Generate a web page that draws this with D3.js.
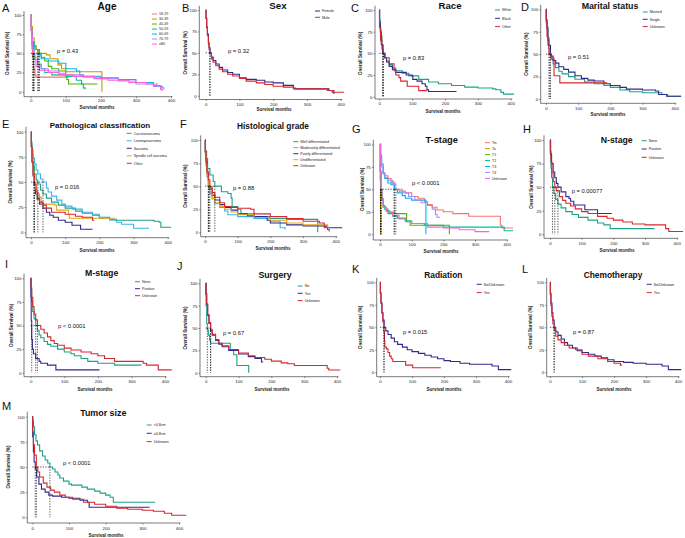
<!DOCTYPE html>
<html><head><meta charset="utf-8">
<script src="https://cdn.jsdelivr.net/npm/d3@7"></script>
<style>html,body{margin:0;padding:0;background:#fff}svg{display:block;font-family:"Liberation Sans",Arial,sans-serif}</style>
</head><body><svg id="c" width="685" height="538"></svg>
<script>
// ---------------- DATA ----------------
const xTicks = [0, 100, 200, 300, 400];
const yTicks = [0, 25, 50, 75, 100];

const panelKeys = ["A","B","C","D","E","F","G","H","I","J","K","L","M"];
const panelTitles = ["Age","Sex","Race","Marital status","Pathological classification","Histological grade","T-stage","N-stage","M-stage","Surgery","Radiation","Chemotherapy","Tumor size"];
const pLabels = ["p = 0.43","p = 0.32","p = 0.83","p = 0.51","p = 0.016","p = 0.88","p < 0.0001","p = 0.00077","p < 0.0001","p = 0.67","p = 0.015","p = 0.87","p < 0.0001"];

const ageGroups = ["18-29","30-39","40-49","50-59","60-69","70-79","\u226580"];
const ageCurves = [
 [[0,100],[1,85],[3,60],[5,45],[8,30],[12,22],[15,19],[108,19]],
 [[0,100],[2,85],[5,70],[10,60],[15,55],[22,50],[45,48],[55,43],[70,43],[78,35],[88,30],[100,26],[203,26],[203,0]],
 [[0,100],[2,80],[5,65],[8,60],[15,55],[25,50],[30,45],[40,40],[50,33],[60,30],[80,27],[100,20],[103,16],[108,10],[190,10]],
 [[0,100],[2,80],[5,60],[8,50],[12,42],[20,35],[30,30],[40,25],[60,22],[100,20],[130,15],[145,10],[150,5],[155,3]],
 [[0,100],[2,80],[5,65],[10,55],[20,48],[30,43],[50,40],[80,37],[100,30],[130,27],[140,22],[150,20],[200,18],[250,16],[300,12],[350,8],[370,7],[375,5]],
 [[0,100],[2,75],[5,55],[10,45],[20,36],[30,30],[50,27],[80,24],[100,22],[150,19],[200,17],[250,14],[300,10],[350,7],[370,5],[380,3]],
 [[0,100],[1,80],[4,55],[8,42],[15,33],[25,28],[50,25],[80,22],[120,20],[180,17],[220,15],[280,12],[330,10],[360,8],[370,3],[375,1]]
];

const sexGroups = ["Female","Male"];
const sexCurves = [
 [[0,100],[1,90],[3,80],[5,72],[8,62],[10,56],[13,50],[17,45],[22,41],[30,37],[40,33],[50,30],[65,27],[80,25],[100,21],[120,19],[150,18],[175,16],[200,15],[230,12],[260,9],[265,8],[355,8],[365,6],[375,4],[380,2]],
 [[0,100],[1,90],[3,79],[5,70],[8,60],[10,54],[12,49],[17,43],[22,39],[30,35],[40,31],[50,28],[65,25],[80,23],[100,20],[120,17],[150,15],[175,13],[200,11],[230,10],[260,8],[355,8],[360,6],[380,4],[410,4]]
];

const raceGroups = ["White","Black","Other"];
const raceCurves = [
 [[0,100],[1,88],[3,78],[5,70],[8,60],[12,50],[16,45],[22,41],[30,37],[40,33],[50,30],[70,27],[90,24],[120,20],[150,17],[180,15],[220,13],[260,11],[300,10],[345,9],[355,8],[370,5],[378,3],[410,3]],
 [[0,100],[1,85],[3,75],[6,60],[10,50],[15,45],[22,40],[30,35],[40,31],[50,28],[82,25],[100,24],[102,20],[115,18],[130,15],[140,12],[145,8],[150,6],[235,6]],
 [[0,100],[0.5,80],[4,65],[8,55],[12,50],[18,45],[30,38],[45,30],[50,25],[60,22],[65,18],[85,12],[120,7],[146,7]]
];

const maritalGroups = ["Married","Single","Unknown"];
const maritalCurves = [
 [[0,100],[1,88],[3,78],[6,65],[9,56],[12,50],[16,44],[22,39],[30,35],[40,31],[50,28],[70,25],[90,22],[120,19],[150,17],[180,15],[200,13],[230,10],[260,8],[300,7],[345,7],[360,5],[378,3],[420,3]],
 [[0,100],[1,88],[3,80],[6,68],[9,60],[14,50],[16,48],[22,43],[30,40],[40,36],[55,33],[70,30],[90,26],[110,23],[130,21],[150,20],[180,17],[200,15],[230,13],[250,11],[300,10],[340,9],[350,5],[375,3],[420,3]],
 [[0,100],[0.5,85],[3,70],[6,60],[9,50],[15,46],[22,45],[25,26],[43,26],[43,18],[190,18]]
];

const pathGroups = ["Carcinosarcoma","Leiomyosarcoma","Sarcoma","Spindle cell sarcoma","Other"];
const pathCurves = [
 [[0,100],[1,88],[3,77],[6,66],[10,58],[15,52],[20,48],[28,42],[35,38],[45,34],[60,30],[80,27],[100,24],[130,21],[150,19],[180,17],[200,15],[230,13],[250,12],[340,12],[360,11],[375,10],[380,5],[410,5]],
 [[0,100],[1,90],[3,82],[6,74],[10,68],[15,62],[20,58],[28,53],[35,50],[45,44],[50,40],[60,36],[75,32],[90,28],[100,26],[120,23],[150,20],[180,18],[200,14],[230,12],[250,10],[265,8],[300,4],[345,4]],
 [[0,100],[1,85],[3,70],[6,56],[9,47],[13,38],[18,33],[25,28],[35,24],[45,20],[55,17],[65,15],[80,12],[100,10],[120,7],[145,3],[180,3]],
 [[0,100],[1,85],[3,72],[6,60],[9,50],[13,43],[18,38],[25,35],[30,28],[70,27],[75,22],[110,18],[112,14],[245,14]],
 [[0,100],[1,85],[3,70],[6,58],[10,48],[15,40],[20,34],[25,30],[35,27],[45,24],[60,20],[100,18],[130,16],[150,15],[180,12],[185,12]]
];

const gradeGroups = ["Well differentiated","Moderately differentiated","Poorly differentiated","Undifferentiated","Unknown"];
const gradeCurves = [
 [[0,100],[1,88],[5,80],[8,69],[15,62],[25,55],[30,50],[50,44],[70,42],[80,37],[83,28],[100,25],[110,20],[150,17],[200,15],[250,14],[345,14],[345,0]],
 [[0,100],[1,85],[3,72],[6,60],[10,50],[15,42],[22,36],[30,31],[45,27],[60,23],[70,19],[100,17],[150,15],[200,12],[230,5],[245,3]],
 [[0,100],[1,87],[3,76],[6,64],[11,50],[15,47],[22,40],[30,35],[45,30],[60,27],[80,24],[100,20],[130,18],[150,17],[190,13],[200,10],[250,8],[300,7],[370,6],[375,5],[420,5]],
 [[0,100],[1,85],[3,73],[6,61],[10,51],[12,48],[22,37],[30,32],[45,28],[60,25],[80,22],[100,19],[150,16],[200,13],[250,10],[300,8],[370,8],[375,3],[380,3]],
 [[0,100],[1,88],[3,78],[6,66],[10,57],[15,49],[22,43],[30,38],[45,32],[60,28],[80,27],[100,26],[140,25],[150,20],[200,17],[250,15],[300,12],[350,10],[365,5],[375,3],[380,1]]
];

const tGroups = ["Tis","Ta","T1","T2","T3","T4","Unknown"];
const tCurves = [
 [[0,100],[2,85],[5,75],[10,68],[15,65],[25,62],[35,58],[45,50],[60,48],[80,46],[100,42],[120,40],[140,36],[150,33],[165,30],[180,27],[200,25],[230,23],[280,20],[370,20],[380,10],[385,7],[420,7]],
 [[0,100],[0.5,60],[1.5,25],[2.5,0]],
 [[0,100],[1,70],[3,50],[6,38],[10,30],[20,26],[30,24],[47,23],[84,14],[95,10],[219,10],[219,0]],
 [[0,100],[1,70],[3,50],[6,40],[10,32],[15,28],[25,23],[40,20],[55,18],[80,15],[100,12],[140,10],[200,8],[390,8],[392,4],[420,4]],
 [[0,100],[2,88],[5,78],[10,68],[15,62],[25,57],[35,55],[45,50],[55,46],[70,43],[80,40],[100,38],[145,38],[145,0]],
 [[0,100],[2,85],[5,75],[10,67],[15,63],[25,60],[40,56],[50,50],[70,46],[90,42],[110,38],[130,35],[150,32],[165,28],[175,22],[180,19],[190,19]],
 [[0,100],[1,70],[3,50],[6,38],[10,30],[20,25],[40,21],[60,17],[80,14],[100,12],[150,8],[200,7],[250,5],[300,3],[345,3]]
];

const nGroups = ["None","Positive","Unknown"];
const nCurves = [
 [[0,100],[1,85],[3,70],[5,60],[8,50],[12,43],[18,37],[25,32],[35,28],[50,24],[70,21],[90,18],[120,15],[150,12],[170,10],[190,6],[330,6]],
 [[0,100],[2,85],[5,75],[10,66],[15,60],[20,54],[25,50],[35,45],[50,40],[60,38],[65,35],[75,31],[110,26],[150,22],[195,22]],
 [[0,100],[1,88],[3,77],[6,65],[10,56],[15,50],[20,46],[30,40],[40,36],[50,33],[65,30],[80,27],[100,24],[120,22],[150,19],[180,17],[200,15],[230,13],[260,11],[300,10],[350,10],[365,6],[375,3],[420,3]]
];

const mGroups = ["None","Positive","Unknown"];
const mCurves = [
 [[0,100],[1,88],[3,76],[6,65],[10,57],[15,50],[20,45],[25,40],[30,37],[40,33],[50,30],[60,28],[80,25],[100,22],[120,20],[130,18],[150,15],[170,12],[200,10],[250,8],[330,8]],
 [[0,100],[0.5,80],[1.5,55],[3,35],[5,25],[8,20],[15,15],[25,12],[30,10],[50,8],[75,3],[205,3]],
 [[0,100],[1,90],[3,80],[6,70],[10,62],[15,56],[20,50],[30,46],[40,42],[50,38],[60,34],[70,31],[80,29],[100,26],[120,24],[150,22],[180,20],[200,18],[220,15],[250,12],[330,12],[335,10],[345,8],[375,8],[380,3],[420,3]]
];

const surgeryGroups = ["No","Yes","Unknown"];
const surgeryCurves = [
 [[0,100],[1,75],[3,55],[5,48],[8,42],[12,36],[15,33],[75,25],[85,20],[95,8],[131,0]],
 [[0,100],[1,88],[3,76],[6,64],[10,55],[15,47],[20,42],[30,36],[40,32],[50,29],[70,25],[100,21],[130,18],[150,16],[170,12],[175,12]],
 [[0,100],[1,88],[3,77],[6,65],[10,56],[15,48],[20,43],[30,37],[40,33],[50,30],[70,26],[100,22],[130,19],[150,17],[180,15],[200,13],[230,11],[250,10],[270,8],[355,8],[370,5],[375,3],[410,3]]
];

const radiationGroups = ["No/Unknown","Yes"];
const radiationCurves = [
 [[0,100],[1,88],[3,77],[6,66],[9,58],[13,50],[18,46],[25,42],[35,38],[45,34],[55,31],[70,28],[85,25],[100,23],[120,21],[140,19],[160,17],[180,15],[200,13],[220,12],[250,10],[280,9],[340,9],[350,7],[370,3],[410,3]],
 [[0,100],[1,88],[3,77],[6,66],[9,56],[12,45],[14,35],[15,28],[20,26],[25,22],[30,18],[35,15],[40,12],[80,8],[102,5],[190,5]]
];

const chemoGroups = ["No/Unknown","Yes"];
const chemoCurves = [
 [[0,100],[1,88],[3,77],[6,66],[9,58],[13,50],[18,45],[25,41],[35,37],[45,33],[55,30],[70,27],[85,24],[100,22],[120,20],[140,18],[160,16],[180,14],[200,12],[230,11],[260,10],[300,9],[340,9],[350,7],[370,3],[410,3]],
 [[0,100],[1,86],[3,74],[6,62],[9,54],[13,47],[18,40],[25,36],[35,33],[45,30],[60,27],[80,25],[100,20],[120,18],[150,15],[180,12],[200,10],[220,8],[225,8]]
];

const sizeGroups = ["<4.8cm","\u22654.8cm","Unknown"];
const sizeCurves = [
 [[0,100],[1,96],[3,90],[6,82],[10,76],[14,72],[20,66],[28,61],[35,57],[42,54],[48,50],[55,48],[62,45],[70,42],[75,39],[85,36],[100,33],[107,32],[135,30],[150,28],[170,26],[185,24],[200,22],[212,20],[221,15],[335,15]],
 [[0,100],[1,80],[3,65],[5,55],[8,48],[12,40],[18,33],[25,28],[35,25],[45,22],[55,21],[80,20],[100,19],[130,17],[150,15],[155,10],[320,10]],
 [[0,100],[1,85],[3,72],[6,62],[11,50],[15,45],[20,40],[30,34],[40,30],[50,27],[60,25],[75,22],[90,20],[110,18],[140,15],[170,13],[200,11],[230,9],[260,8],[300,7],[330,6],[360,4],[380,2],[420,2]]
];

// ---------------- STYLES ----------------
const TEAL="#1FA187", NAVY="#2E2A8F", RED="#D7282F", LBLUE="#3CB4E5", GOLD="#E8A519";
const hue7 = ["#F8766D","#C49A00","#53B400","#00C094","#00B6EB","#A58AFF","#FB61D7"];
const ageColors = hue7, tColors = hue7;
const sexColors = [NAVY, RED];
const raceColors = [TEAL, NAVY, RED];
const maritalColors = [TEAL, NAVY, RED];
const pathColors = [TEAL, LBLUE, NAVY, GOLD, RED];
const gradeColors = [TEAL, LBLUE, NAVY, GOLD, RED];
const nColors = [TEAL, NAVY, RED], mColors = [TEAL, NAVY, RED], surgeryColors = [TEAL, NAVY, RED];
const radiationColors = [NAVY, RED], chemoColors = [NAVY, RED], sizeColors = [TEAL, NAVY, RED];

// layout (positions in px)
const layouts = [
 {lx:2,ly:12,tx:107,ty:9.5,tfs:10,yx:24,y100:15,y0:91.7,xay:96.7,x0:30.7,x400:171,ytx:7,xty:100.5,xtx:97,xtty:108.5,legx:152,legy:14,legdy:5,px:57,py:51},
 {lx:182,ly:11.5,tx:278,ty:9,tfs:9.8,yx:199.3,y100:10,y0:95.7,xay:99.5,x0:205.7,x400:340.7,ytx:185,xty:104.3,xtx:274,xtty:110.5,legx:315,legy:11,legdy:6.3,px:228,py:51},
 {lx:351,ly:12,tx:450,ty:8.5,tfs:9.6,yx:375,y100:10,y0:96.7,xay:99,xtx:443,x0:379.3,x400:510.7,ytx:360,xty:103,xtty:112.5,legx:495,legy:10,legdy:8.3,px:403,py:58},
 {lx:521,ly:11,tx:610,ty:9,tfs:8.8,yx:540.7,y100:9.3,y0:99,xay:103.3,x0:546,x400:674.7,ytx:526,xty:108.3,xtx:608,xtty:115.5,legx:642.7,legy:12,legdy:7.3,px:568,py:57},
 {lx:2,ly:128,tx:100,ty:127.5,tfs:8,yx:26,y100:131.7,y0:232.3,xay:237.7,x0:31,x400:167.7,ytx:10,xty:242.3,xtx:97,xtty:251.5,legx:126.7,legy:133.3,legdy:7.5,px:55,py:187},
 {lx:180,ly:128,tx:273,ty:129,tfs:8.3,yx:200.7,y100:140,y0:232.3,xay:236.7,x0:205,x400:335.7,ytx:185,xty:241.7,xtx:273,xtty:250,legx:293.3,legy:141.7,legdy:6,px:233,py:187.5},
 {lx:352,ly:133,tx:441.7,ty:143,tfs:9.3,yx:373.3,y100:144.3,y0:234.3,xay:240,x0:380,x400:506.7,ytx:362.7,xty:244.5,xtx:441,xtty:252.5,legx:485,legy:142.7,legdy:5.95,px:412,py:183},
 {lx:523,ly:133,tx:616.7,ty:143,tfs:8.7,yx:544,y100:140,y0:234.3,xay:238.3,x0:550,x400:676.7,ytx:531,xty:243,xtx:617,xtty:252,legx:641.7,legy:140.7,legdy:8.3,px:571.7,py:191},
 {lx:5,ly:268,tx:101.7,ty:275.5,tfs:8.8,yx:24,y100:278.3,y0:372.7,xay:376.7,x0:30.7,x400:165,ytx:11.7,xty:381.7,xtx:95,xtty:390.5,legx:135,legy:281.7,legdy:7,px:58,py:326},
 {lx:177,ly:270,tx:275,ty:277.5,tfs:8.8,yx:200,y100:283.3,y0:372.7,xay:376.7,x0:205.7,x400:337,ytx:185,xty:381.7,xtx:272,xtty:390.5,legx:297.7,legy:286,legdy:7.3,px:223,py:332.5},
 {lx:352,ly:273,tx:443.3,ty:277.5,tfs:8.4,yx:376.7,y100:282.3,y0:372.3,xay:376.7,x0:380,x400:508,ytx:360,xty:381.7,xtx:444,xtty:390.5,legx:476.7,legy:284.3,legdy:8.3,px:403,py:332},
 {lx:522,ly:273,tx:613,ty:277.5,tfs:8.4,yx:546.7,y100:282.3,y0:372.3,xay:376.7,x0:550,x400:678,ytx:530,xty:381.7,xtx:614,xtty:390.5,legx:646.7,legy:284.3,legdy:8.3,px:573,py:332},
 {lx:2,ly:410,tx:103.3,ty:416,tfs:8.9,yx:27.3,y100:416.7,y0:517.3,xay:523,x0:32.3,x400:179,ytx:8.3,xty:528.5,xtx:106,xtty:537,legx:146.7,legy:425,legdy:8.3,px:63,py:463}
];

const groupLists = [ageGroups,sexGroups,raceGroups,maritalGroups,pathGroups,gradeGroups,tGroups,nGroups,mGroups,surgeryGroups,radiationGroups,chemoGroups,sizeGroups];
const curveLists = [ageCurves,sexCurves,raceCurves,maritalCurves,pathCurves,gradeCurves,tCurves,nCurves,mCurves,surgeryCurves,radiationCurves,chemoCurves,sizeCurves];
const colorLists = [ageColors,sexColors,raceColors,maritalColors,pathColors,gradeColors,tColors,nColors,mColors,surgeryColors,radiationColors,chemoColors,sizeColors];

// ---------------- DRAW ----------------
const svg = d3.select("#c");
const FONT = '"Liberation Sans", Arial, sans-serif';
const TICKFS = 4.4;

function drawPanel(i) {
  const L = layouts[i];
  const names = groupLists[i], curves = curveLists[i], colors = colorLists[i];
  const x = d3.scaleLinear().domain([0, 400]).range([L.x0, L.x400]);
  const y = d3.scaleLinear().domain([0, 100]).range([L.y0, L.y100]);
  const g = svg.append("g").attr("font-family", FONT);

  g.append("text").attr("x", L.lx).attr("y", L.ly).attr("font-size", 11).attr("fill", "#111").text(panelKeys[i]);
  g.append("text").attr("x", L.tx).attr("y", L.ty).attr("text-anchor", "middle")
    .attr("font-weight", "bold").attr("font-size", L.tfs).attr("fill", "#111").text(panelTitles[i]);

  // axes
  const tickSize = 1.5;
  const xa = d3.axisBottom(x).tickValues(xTicks).tickSize(tickSize)
    .tickPadding(Math.max(0.2, L.xty - L.xay - tickSize - 0.35 * TICKFS));
  g.append("g").attr("transform", `translate(0,${L.xay})`).call(xa)
    .attr("font-size", TICKFS).attr("font-family", FONT)
    .call(s => { s.select(".domain").remove();
      s.selectAll("line").attr("stroke", "#222").attr("stroke-width", 0.5);
      s.selectAll("text").attr("fill", "#222"); });
  const ya = d3.axisLeft(y).tickValues(yTicks).tickSize(tickSize).tickPadding(1);
  g.append("g").attr("transform", `translate(${L.yx},0)`).call(ya)
    .attr("font-size", TICKFS).attr("font-family", FONT)
    .call(s => { s.select(".domain").remove();
      s.selectAll("line").attr("stroke", "#222").attr("stroke-width", 0.5);
      s.selectAll("text").attr("fill", "#222"); });
  const topY = L.y100 - 0.05 * (L.y0 - L.y100);
  g.append("path").attr("d", `M${L.yx},${topY}V${L.xay}H${L.x400 + 1.5}`)
    .attr("fill", "none").attr("stroke", "#222").attr("stroke-width", 0.6);

  // axis titles
  g.append("text").attr("x", L.xtx).attr("y", L.xtty).attr("text-anchor", "middle")
    .attr("font-weight", "bold").attr("font-size", 4.5).attr("fill", "#222").text("Survival months");
  g.append("text").attr("transform", `translate(${L.ytx},${(L.y100 + L.y0) / 2}) rotate(-90)`)
    .attr("text-anchor", "middle").attr("dy", "0.35em")
    .attr("font-weight", "bold").attr("font-size", 4.6).attr("fill", "#222").text("Overall Survival (%)");

  // curves
  const line = d3.line().x(d => x(d[0])).y(d => y(d[1])).curve(d3.curveStepAfter);
  curves.forEach((c, k) => {
    g.append("path").attr("d", line(c)).attr("fill", "none")
      .attr("stroke", colors[k]).attr("stroke-width", 1.1).attr("stroke-linejoin", "miter");
  });

  // median lines
  const meds = curves.map(c => { const p = c.find(d => d[1] <= 50); return p ? p[0] : null; }).filter(m => m !== null);
  if (meds.length) {
    const mx = d3.max(meds);
    g.append("path").attr("d", `M${x(0)},${y(50)}H${x(mx)}`).attr("stroke", "#111")
      .attr("stroke-width", 0.7).attr("stroke-dasharray", "1.3,1.3").attr("fill", "none");
    meds.forEach(m => {
      g.append("path").attr("d", `M${x(m)},${y(50)}V${y(0)}`).attr("stroke", "#111")
        .attr("stroke-width", 0.7).attr("stroke-dasharray", "1.3,1.3").attr("fill", "none");
    });
  }

  // p value
  g.append("text").attr("x", L.px).attr("y", L.py).attr("dy", "0.35em")
    .attr("font-size", 5.8).attr("fill", "#111").text(pLabels[i]);

  // legend
  names.forEach((n, k) => {
    const yy = L.legy + k * L.legdy;
    g.append("line").attr("x1", L.legx).attr("x2", L.legx + 5).attr("y1", yy).attr("y2", yy)
      .attr("stroke", colors[k]).attr("stroke-width", 1);
    g.append("text").attr("x", L.legx + 7).attr("y", yy).attr("dy", "0.35em")
      .attr("font-size", 3.6).attr("fill", "#222").text(n);
  });
}

panelKeys.forEach((k, i) => drawPanel(i));
</script>
</body></html>
